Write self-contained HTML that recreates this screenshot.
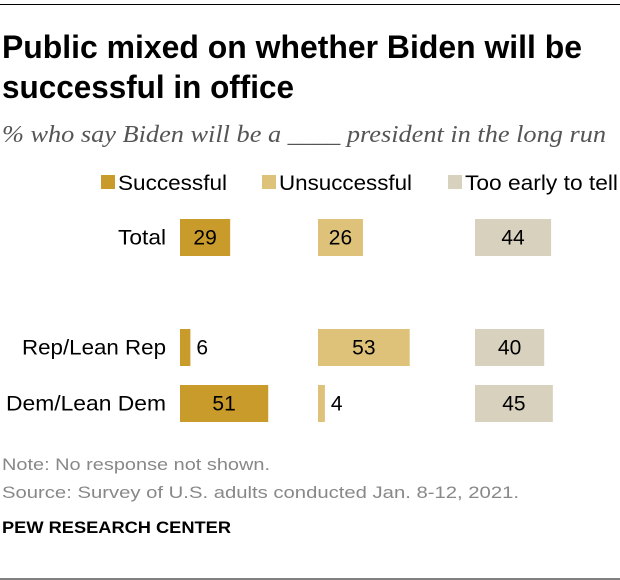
<!DOCTYPE html>
<html><head><meta charset="utf-8"><style>
html,body{margin:0;padding:0;background:#fff;}
svg{display:block;font-family:"Liberation Sans",Arial,sans-serif;}
</style></head><body>
<svg id="chart" width="620" height="580" viewBox="0 0 620 580">
<line x1="0" y1="4.5" x2="620" y2="4.5" stroke="#000" stroke-width="1"/>
<text x="2" y="58" font-size="32" font-weight="bold" textLength="580" lengthAdjust="spacingAndGlyphs">Public mixed on whether Biden will be</text>
<text x="2" y="98" font-size="32" font-weight="bold" textLength="292" lengthAdjust="spacingAndGlyphs">successful in office</text>
<text x="2" y="142" font-size="24" font-style="italic" fill="#555" font-family="Liberation Serif,serif" textLength="604" lengthAdjust="spacingAndGlyphs">% who say Biden will be a ____ president in the long run</text>
<g id="legend"></g>
<g id="bars"></g>
<text x="2" y="470" font-size="17" fill="#888" textLength="268" lengthAdjust="spacingAndGlyphs">Note: No response not shown.</text>
<text x="2" y="498" font-size="17" fill="#888" textLength="517" lengthAdjust="spacingAndGlyphs">Source: Survey of U.S. adults conducted Jan. 8-12, 2021.</text>
<text x="2" y="533" font-size="17" font-weight="bold" textLength="229" lengthAdjust="spacingAndGlyphs">PEW RESEARCH CENTER</text>
<line x1="0" y1="579" x2="620" y2="579" stroke="#000" stroke-width="1"/>
</svg>
<script>
const categories = ["Total", "Rep/Lean Rep", "Dem/Lean Dem"];
const seriesNames = ["Successful", "Unsuccessful", "Too early to tell"];
const successful = [29, 6, 51];
const unsuccessful = [26, 53, 4];
const tooEarly = [44, 40, 45];

const NS = "http://www.w3.org/2000/svg";
const colors = ["#c99b2a", "#dfc27a", "#d8d1bd"];
const colX = [180, 318, 475];
const rowY = [219, 329, 385];
const barH = 37;
const scale = 1.73;
const labelLen = [48, 144, 160];
const legLen = [109, 133, 153];
function xw(v){ return v * scale; }
function mk(tag, attrs, parent){ const e=document.createElementNS(NS,tag); for(const k in attrs) e.setAttribute(k,attrs[k]); parent.appendChild(e); return e; }

const legend = document.getElementById("legend");
const legX = [101, 262, 448];
seriesNames.forEach((n,i)=>{
  const r = mk("rect",{x:legX[i],y:175,width:14,height:14,fill:colors[i]},legend);
  
  
  const t = mk("text",{x:legX[i]+17,y:190,"font-size":21,textLength:legLen[i],lengthAdjust:"spacingAndGlyphs"},legend);
  t.textContent = n;
  
  
});

const bars = document.getElementById("bars");
const series = [successful, unsuccessful, tooEarly];
categories.forEach((c,ri)=>{
  const lab = mk("text",{x:166,y:rowY[ri]+barH/2+7,"font-size":21,"text-anchor":"end",textLength:labelLen[ri],lengthAdjust:"spacingAndGlyphs"},bars);
  lab.textContent = c;
  
  
  series.forEach((s,si)=>{
    const v = s[ri], w = xw(v);
    const r = mk("rect",{x:colX[si],y:rowY[ri],width:w,height:barH,fill:colors[si]},bars);
    
    
    const inside = w > 30;
    const t = mk("text",{x: inside ? colX[si]+w/2 : colX[si]+w+6, y: rowY[ri]+barH/2+7, "font-size":21, "text-anchor": inside?"middle":"start", fill:"#000"},bars);
    t.textContent = v;
    
    
  });
});
</script>
</body></html>
